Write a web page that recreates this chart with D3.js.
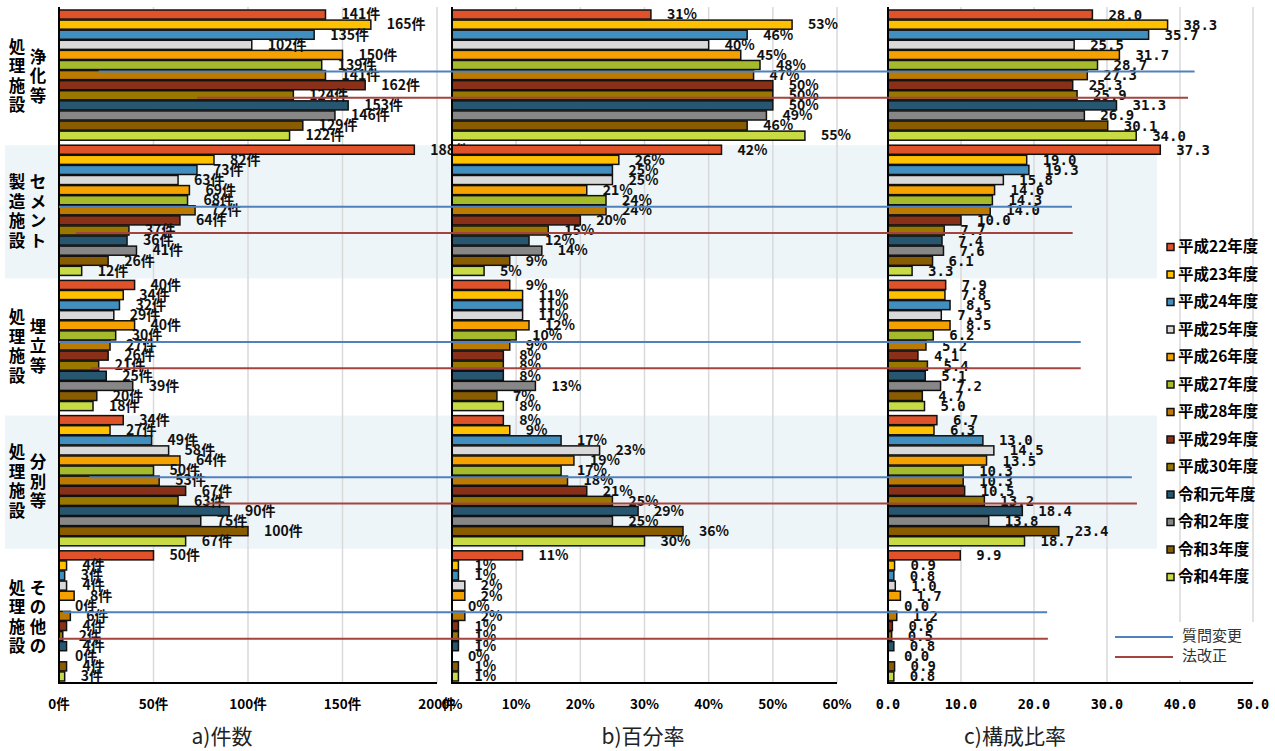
<!DOCTYPE html>
<html>
<head>
<meta charset="utf-8">
<script src="https://cdn.jsdelivr.net/npm/d3@7"></script>
<style>
  body { margin: 0; background: #fff; }
  svg { display: block; font-family: 'Noto Sans CJK JP', sans-serif; }
</style>
</head>
<body>
<div id="chart"></div>
<script>
// categories
const groups = ['浄化等処理施設', 'セメント製造施設', '埋立等処理施設', '分別等処理施設', 'その他の処理施設'];
const groupLabelLeft = ['処理施設', '製造施設', '処理施設', '処理施設', '処理施設'];
const groupLabelRight = ['浄化等', 'セメント', '埋立等', '分別等', 'その他の'];
const years = ['平成22年度', '平成23年度', '平成24年度', '平成25年度', '平成26年度', '平成27年度', '平成28年度',
  '平成29年度', '平成30年度', '令和元年度', '令和2年度', '令和3年度', '令和4年度'];
const yearColors = ['#E0532A', '#FFC000', '#418FBE', '#D9D9D9', '#F5A100', '#A6BB2C', '#BC7A00',
  '#8A3018', '#9A7800', '#265670', '#878787', '#8A5C00', '#C8DB45'];

// a) 件数
const counts = [
  [141, 165, 135, 102, 150, 139, 141, 162, 124, 153, 146, 129, 122],
  [188, 82, 73, 63, 69, 68, 72, 64, 37, 36, 41, 26, 12],
  [40, 34, 32, 29, 40, 30, 27, 26, 21, 25, 39, 20, 18],
  [34, 27, 49, 58, 64, 50, 53, 67, 63, 90, 75, 100, 67],
  [50, 4, 3, 4, 8, 0, 6, 4, 2, 4, 0, 4, 3]
];
// b) 百分率
const percents = [
  [31, 53, 46, 40, 45, 48, 47, 50, 50, 50, 49, 46, 55],
  [42, 26, 25, 25, 21, 24, 24, 20, 15, 12, 14, 9, 5],
  [9, 11, 11, 11, 12, 10, 9, 8, 8, 8, 13, 7, 8],
  [8, 9, 17, 23, 19, 17, 18, 21, 25, 29, 25, 36, 30],
  [11, 1, 1, 2, 2, 0, 2, 1, 1, 1, 0, 1, 1]
];
// c) 構成比率
const shares = [
  [28.0, 38.3, 35.7, 25.5, 31.7, 28.7, 27.3, 25.3, 25.9, 31.3, 26.9, 30.1, 34.0],
  [37.3, 19.0, 19.3, 15.8, 14.6, 14.3, 14.0, 10.0, 7.7, 7.4, 7.6, 6.1, 3.3],
  [7.9, 7.8, 8.5, 7.3, 8.5, 6.2, 5.2, 4.1, 5.4, 5.1, 7.2, 4.7, 5.0],
  [6.7, 6.3, 13.0, 14.5, 13.5, 10.3, 10.3, 10.5, 13.2, 18.4, 13.8, 23.4, 18.7],
  [9.9, 0.9, 0.8, 1.0, 1.7, 0.0, 1.2, 0.6, 0.5, 0.8, 0.0, 0.9, 0.8]
];

const countTicks = [0, 50, 100, 150, 200];
const percentTicks = [0, 10, 20, 30, 40, 50, 60];
const shareTicks = [0, 10, 20, 30, 40, 50];

// marker lines: start on the 件数 axis, end on the 構成比率 axis
const markerNames = ['質問変更', '法改正'];
const markerColors = ['#4F81BD', '#A5443F'];
const markerAfterYear = ['平成28年度', '令和元年度'];
const questionStart = [21, 0, 0, 16, 2];
const questionEnd = [42.0, 25.2, 26.4, 33.4, 21.8];
const lawStart = [73, 9, 17, 78, 0];
const lawEnd = [41.1, 25.3, 26.4, 34.1, 21.9];

const W = 1275, H = 751;
const plotTop = 7, plotBottom = 683;

const svg = d3.select('#chart').append('svg')
  .attr('width', W).attr('height', H);

const y = d3.scaleBand().domain(groups).range([plotTop, plotBottom]);
const yi = d3.scaleBand().domain(years).range([3, y.bandwidth() - 2]).paddingInner(0.1);

const panels = [
  { data: counts, x: d3.scaleLinear().domain([0, 200]).range([59, 437]), ticks: countTicks,
    tickFmt: d => d + '件', labelFmt: d => d + '件', title: 'a)件数', titleX: 222,
    font: "'Noto Sans CJK JP'", size: 14 },
  { data: percents, x: d3.scaleLinear().domain([0, 60]).range([452, 837]), ticks: percentTicks,
    tickFmt: d => d + '%', labelFmt: d => d + '%', title: 'b)百分率', titleX: 643,
    font: "'Noto Sans CJK JP'", size: 14 },
  { data: shares, x: d3.scaleLinear().domain([0, 50]).range([888, 1253]), ticks: shareTicks,
    tickFmt: d => d.toFixed(1), labelFmt: d => d.toFixed(1), title: 'c)構成比率', titleX: 1015,
    font: "'DejaVu Sans Mono'", size: 14 }
];

// shaded bands for the 2nd and 4th groups
svg.append('g')
  .selectAll('rect')
  .data(groups.filter((g, i) => i % 2 === 1))
  .join('rect')
  .attr('x', 5)
  .attr('width', 1152)
  .attr('y', d => y(d) + 3)
  .attr('height', y.bandwidth() - 2)
  .attr('fill', '#EDF5F9');

// gridlines
panels.forEach(p => {
  svg.append('g')
    .selectAll('line')
    .data(p.ticks.slice(1))
    .join('line')
    .attr('x1', d => p.x(d)).attr('x2', d => p.x(d))
    .attr('y1', plotTop).attr('y2', plotBottom)
    .attr('stroke', '#D9D9D9')
    .attr('stroke-width', 1.5);
});

// white box behind the marker legend
svg.append('rect')
  .attr('x', 1108).attr('y', 622)
  .attr('width', 150).attr('height', 58)
  .attr('fill', '#fff');

panels.forEach(p => {
  const g = svg.append('g');
  groups.forEach((grp, gi) => {
    const rows = years.map((yr, k) => ({ yr: yr, k: k, v: p.data[gi][k] }));
    g.append('g')
      .selectAll('rect')
      .data(rows)
      .join('rect')
      .attr('x', p.x(0))
      .attr('y', d => y(grp) + yi(d.yr))
      .attr('width', d => p.x(d.v) - p.x(0))
      .attr('height', yi.bandwidth())
      .attr('fill', d => yearColors[d.k])
      .attr('stroke', '#111')
      .attr('stroke-width', 1.5);
    g.append('g')
      .selectAll('text')
      .data(rows)
      .join('text')
      .attr('x', d => p.x(d.v) + 16)
      .attr('y', d => y(grp) + yi(d.yr) + yi.bandwidth() / 2 + 1)
      .attr('dominant-baseline', 'middle')
      .style('font-family', p.font)
      .style('font-weight', 'bold')
      .style('font-size', p.size + 'px')
      .attr('fill', '#111')
      .text(d => p.labelFmt(d.v));
  });

  // axes
  g.append('line')
    .attr('x1', p.x(0)).attr('x2', p.x(0))
    .attr('y1', plotTop).attr('y2', plotBottom)
    .attr('stroke', '#000').attr('stroke-width', 2);
  g.append('line')
    .attr('x1', p.x(0) - 1).attr('x2', p.x.range()[1])
    .attr('y1', plotBottom).attr('y2', plotBottom)
    .attr('stroke', '#000').attr('stroke-width', 2);
  g.append('g')
    .selectAll('text')
    .data(p.ticks)
    .join('text')
    .attr('x', d => p.x(d))
    .attr('y', 705)
    .attr('text-anchor', 'middle')
    .attr('dominant-baseline', 'middle')
    .style('font-family', p.font)
    .style('font-weight', 'bold')
    .style('font-size', '13.5px')
    .text(p.tickFmt);
  g.append('text')
    .attr('x', p.titleX)
    .attr('y', 738)
    .attr('text-anchor', 'middle')
    .attr('dominant-baseline', 'middle')
    .style('font-size', '21px')
    .attr('fill', '#222')
    .text(p.title);
});

// group labels, written vertically in two columns
groups.forEach((grp, gi) => {
  [[groupLabelLeft[gi], 17], [groupLabelRight[gi], 38]].forEach(([str, cx]) => {
    const chars = str.split('');
    const cy = y(grp) + y.bandwidth() / 2 + 3;
    svg.append('g')
      .selectAll('text')
      .data(chars)
      .join('text')
      .attr('x', cx)
      .attr('y', (d, i) => cy + (i - (chars.length - 1) / 2) * 19.5)
      .attr('text-anchor', 'middle')
      .attr('dominant-baseline', 'middle')
      .style('font-weight', 'bold')
      .style('font-size', '16.5px')
      .text(d => d);
  });
});

// marker lines
const xa = panels[0].x, xc = panels[2].x;
const markerStarts = [questionStart, lawStart];
const markerEnds = [questionEnd, lawEnd];
markerNames.forEach((name, m) => {
  const off = m === 0 ? 1 : -3;
  svg.append('g')
    .selectAll('line')
    .data(groups)
    .join('line')
    .attr('x1', (d, gi) => xa(markerStarts[m][gi]))
    .attr('x2', (d, gi) => xc(markerEnds[m][gi]))
    .attr('y1', d => y(d) + yi(markerAfterYear[m]) + off)
    .attr('y2', d => y(d) + yi(markerAfterYear[m]) + off)
    .attr('stroke', markerColors[m])
    .attr('stroke-width', 2);
});

// legend
const legend = svg.append('g').attr('transform', 'translate(1165,247)');
const item = legend.selectAll('g')
  .data(years)
  .join('g')
  .attr('transform', (d, i) => `translate(0,${i * 27.5})`);
item.append('rect')
  .attr('x', 2).attr('y', -3.5)
  .attr('width', 7).attr('height', 7)
  .attr('fill', (d, i) => yearColors[i])
  .attr('stroke', '#111').attr('stroke-width', 1.5);
item.append('text')
  .attr('x', 13).attr('y', 1)
  .attr('dominant-baseline', 'middle')
  .style('font-weight', 'bold')
  .style('font-size', '15.5px')
  .text(d => d);

const mLegend = svg.append('g')
  .selectAll('g')
  .data(markerNames)
  .join('g')
  .attr('transform', (d, i) => `translate(1115,${637 + i * 20})`);
mLegend.append('line')
  .attr('x1', 0).attr('x2', 58)
  .attr('stroke', (d, i) => markerColors[i])
  .attr('stroke-width', 2);
mLegend.append('text')
  .attr('x', 67).attr('y', 0)
  .attr('dominant-baseline', 'middle')
  .style('font-size', '15px')
  .attr('fill', '#333')
  .text(d => d);
</script>
</body>
</html>
